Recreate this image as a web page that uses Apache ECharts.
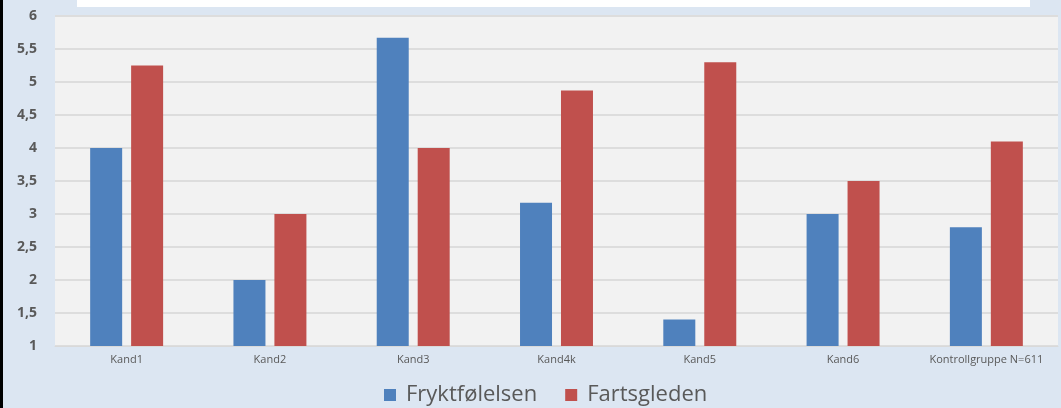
<!DOCTYPE html>
<html>
<head>
<meta charset="utf-8">
<script src="https://cdn.jsdelivr.net/npm/echarts@6/dist/echarts.min.js"></script>
<style>
  html, body { margin: 0; padding: 0; background: #dce6f2; }
  #chart { width: 1061px; height: 408px; }
</style>
</head>
<body>
<div id="chart"></div>
<script>
const categories = ["Kand1", "Kand2", "Kand3", "Kand4k", "Kand5", "Kand6", "Kontrollgruppe N=611"];
const fryktfolelsen = [4.0, 2.0, 5.67, 3.17, 1.4, 3.0, 2.8];
const fartsgleden = [5.25, 3.0, 4.0, 4.87, 5.3, 3.5, 4.1];

const chart = echarts.init(document.getElementById("chart"));
chart.setOption({
  backgroundColor: "#dce6f2",
  animation: false,
  textStyle: { fontFamily: "Open Sans" },
  graphic: [
    // cut-off title box at the top
    { type: "rect", shape: { x: 77, y: 0, width: 953, height: 7 }, style: { fill: "#ffffff" } },
    // black left edge
    { type: "rect", shape: { x: 0, y: 0, width: 3, height: 408 }, style: { fill: "#000000" } },
  ],
  legend: {
    left: 379,
    top: 379,
    itemWidth: 12,
    itemHeight: 12,
    itemGap: 28,
    icon: "rect",
    textStyle: { fontSize: 22, color: "#595959", fontFamily: "Open Sans", padding: [0, 0, 0, 5] },
    data: ["Fryktfølelsen", "Fartsgleden"],
  },
  grid: {
    left: 55,
    right: 3,
    top: 16,
    bottom: 62,
    show: true,
    backgroundColor: "#f2f2f2",
    borderWidth: 0,
  },
  xAxis: {
    type: "category",
    data: categories,
    axisLine: { show: true, lineStyle: { color: "#d9d9d9", width: 1 } },
    axisTick: { show: false },
    axisLabel: { interval: 0, fontSize: 11, color: "#595959", margin: 8 },
  },
  yAxis: {
    type: "value",
    min: 1,
    max: 6,
    interval: 0.5,
    axisLine: { show: false },
    axisTick: { show: false },
    splitLine: { lineStyle: { color: "#dddddd", width: 2 } },
    axisLabel: {
      fontSize: 14,
      fontWeight: "bold",
      color: "#595959",
      margin: 18,
      formatter: (v) => String(v).replace(".", ","),
    },
  },
  series: [
    {
      name: "Fryktfølelsen",
      type: "bar",
      data: fryktfolelsen,
      barWidth: 32,
      barGap: "28%",
      itemStyle: { color: "#4f81bd" },
    },
    {
      name: "Fartsgleden",
      type: "bar",
      data: fartsgleden,
      barWidth: 32,
      itemStyle: { color: "#c0504d" },
    },
  ],
});
</script>
</body>
</html>
